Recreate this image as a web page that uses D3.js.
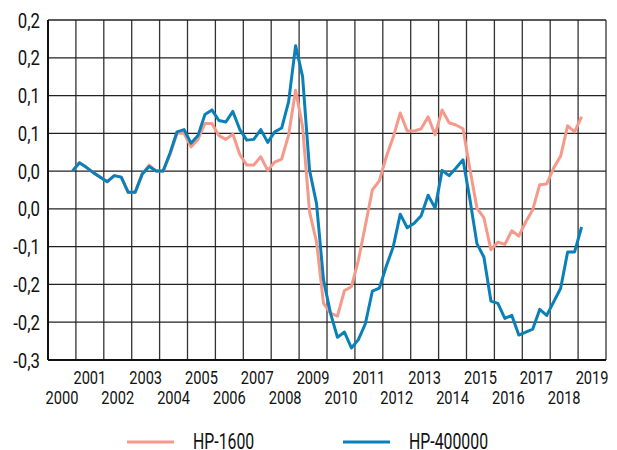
<!DOCTYPE html>
<html lang="en">

<head>
    <meta charset="UTF-8">
    <title>HP filter</title>
    <script src="https://d3js.org/d3.v7.min.js"></script>
    <style>
        body,
        html {
            margin: 0px;
            background: #fff;
        }

        text {
            font-family: Roboto, 'DejaVu Sans Condensed', sans-serif;
            fill: #111;
        }
    </style>
</head>

<body>
    <div id="chart"></div>

    <script>
        // quarterly series, first point sits in the 4th quarter slot of 2000
        const startSlot = 3
        const hp1600 = [
            0.000, 0.011, 0.005, -0.002, -0.008, -0.014, -0.006, -0.008, -0.028, -0.028,
            -0.004, 0.008, 0.000, 0.000, 0.022, 0.050, 0.050, 0.032, 0.042, 0.063,
            0.063, 0.047, 0.042, 0.049, 0.022, 0.008, 0.008, 0.019, 0.001, 0.012,
            0.016, 0.048, 0.107, 0.059, -0.054, -0.094, -0.175, -0.188, -0.192, -0.158,
            -0.153, -0.118, -0.072, -0.025, -0.013, 0.019, 0.045, 0.077, 0.053, 0.053,
            0.056, 0.072, 0.048, 0.081, 0.064, 0.061, 0.056, 0.002, -0.049, -0.062,
            -0.104, -0.094, -0.097, -0.079, -0.086, -0.067, -0.051, -0.018, -0.017, 0.004,
            0.020, 0.060, 0.052, 0.072
        ]
        const hp400000 = [
            0.000, 0.011, 0.005, -0.002, -0.008, -0.014, -0.006, -0.008, -0.028, -0.028,
            -0.004, 0.006, 0.000, 0.000, 0.024, 0.052, 0.055, 0.037, 0.047, 0.075,
            0.081, 0.067, 0.065, 0.079, 0.055, 0.041, 0.042, 0.055, 0.038, 0.052,
            0.057, 0.092, 0.166, 0.125, 0.001, -0.043, -0.144, -0.188, -0.220, -0.213,
            -0.234, -0.223, -0.202, -0.159, -0.155, -0.126, -0.100, -0.057, -0.075, -0.069,
            -0.059, -0.032, -0.049, 0.001, -0.006, 0.004, 0.015, -0.038, -0.096, -0.114,
            -0.172, -0.175, -0.195, -0.191, -0.217, -0.213, -0.209, -0.183, -0.191, -0.173,
            -0.155, -0.107, -0.107, -0.074
        ]
        const years = d3.range(2000, 2020)
        const yTicks = [-0.25, -0.2, -0.15, -0.1, -0.05, 0, 0.05, 0.1, 0.15, 0.2]
        const yTickLabels = ['-0,3', '-0,2', '-0,2', '-0,1', '0,0', '0,0', '0,1', '0,1', '0,2', '0,2']
        const seriesNames = ['HP-1600', 'HP-400000']
        const seriesColors = ['#f59a8a', '#0b80b8']

        const width = 617
        const height = 450
        const margin = { left: 48, right: 11, top: 20, bottom: 90 }

        const svg = d3.select('#chart')
            .append('svg')
            .attr('width', width)
            .attr('height', height)

        const x = d3.scaleLinear()
            .domain([0, years.length * 4])
            .range([margin.left, width - margin.right])
        const y = d3.scaleLinear()
            .domain([-0.25, 0.2])
            .range([height - margin.bottom, margin.top])

        // grid
        svg.append('g')
            .selectAll('line')
            .data(d3.range(0, years.length * 4 + 1, 4))
            .enter()
            .append('line')
            .attr('x1', d => x(d))
            .attr('x2', d => x(d))
            .attr('y1', y(0.2))
            .attr('y2', y(-0.25))
            .style('stroke', '#333')
            .style('stroke-width', 1.3)

        svg.append('g')
            .selectAll('line')
            .data(yTicks)
            .enter()
            .append('line')
            .attr('x1', x(0))
            .attr('x2', x(years.length * 4))
            .attr('y1', d => y(d))
            .attr('y2', d => y(d))
            .style('stroke', '#222')
            .style('stroke-width', 1.3)

        // axis lines
        svg.append('line')
            .attr('x1', x(0)).attr('x2', x(0))
            .attr('y1', y(0.2)).attr('y2', y(-0.25))
            .style('stroke', '#111').style('stroke-width', 2)
        svg.append('line')
            .attr('x1', x(0)).attr('x2', x(years.length * 4))
            .attr('y1', y(-0.25)).attr('y2', y(-0.25))
            .style('stroke', '#111').style('stroke-width', 2)

        // the reference uses a narrow font, squeeze the text a bit
        // y labels
        svg.append('g')
            .selectAll('text')
            .data(yTicks)
            .enter()
            .append('text')
            .attr('transform', d => `translate(40,${y(d) + 7.5}) scale(0.8,1)`)
            .attr('text-anchor', 'end')
            .style('font-size', '21px')
            .text((d, i) => yTickLabels[i])

        // x labels, odd years up, even years down
        svg.append('g')
            .selectAll('text')
            .data(years)
            .enter()
            .append('text')
            .attr('transform', (d, i) => `translate(${x(i * 4 + 2)},${d % 2 ? 384 : 404}) scale(0.77,1)`)
            .attr('text-anchor', 'middle')
            .style('font-size', '19px')
            .text(d => d)

        const line = d3.line()
            .x((d, i) => x(startSlot + i + 0.5))
            .y(d => y(d))

        svg.append('g')
            .selectAll('path')
            .data([hp1600, hp400000])
            .enter()
            .append('path')
            .attr('d', line)
            .style('fill', 'none')
            .style('stroke', (d, i) => seriesColors[i])
            .style('stroke-width', 3)
            .style('stroke-linejoin', 'round')

        // legend
        const legend = svg.append('g')
            .selectAll('g')
            .data(seriesNames)
            .enter()
            .append('g')
            .attr('transform', (d, i) => `translate(${127 + i * 216},442)`)
        legend.append('line')
            .attr('x1', 0).attr('x2', 47)
            .style('stroke', (d, i) => seriesColors[i])
            .style('stroke-width', 3)
        legend.append('text')
            .attr('transform', 'translate(66,7) scale(0.72,1)')
            .style('font-size', '22px')
            .text(d => d)
    </script>
</body>

</html>
